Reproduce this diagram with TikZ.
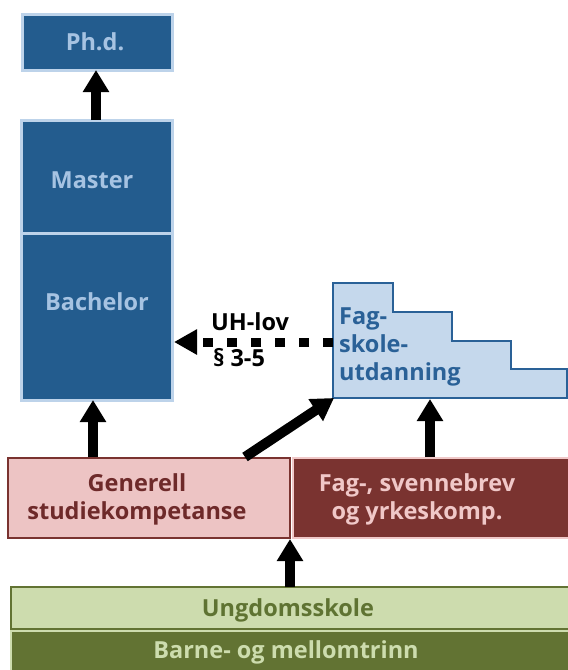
\documentclass[tikz,border=0pt]{standalone}
\usepackage{fontspec}
\setmainfont{Open Sans}
\usetikzlibrary{arrows.meta}
\definecolor{dblue}{HTML}{235C8E}
\definecolor{lblue}{HTML}{BDD3EA}
\definecolor{tblue}{HTML}{A6C3E2}
\definecolor{fsfill}{HTML}{C5D8EC}
\definecolor{fsline}{HTML}{2A6197}
\definecolor{pinkfill}{HTML}{EDC4C4}
\definecolor{dred}{HTML}{7A3330}
\definecolor{tred}{HTML}{6E2A2A}
\definecolor{lpink}{HTML}{F0C8C8}
\definecolor{lgreen}{HTML}{CDDCAE}
\definecolor{dgreen}{HTML}{627333}
\definecolor{tgreen}{HTML}{5F7332}
\tikzset{
  txt/.style={font=\fontsize{23.5}{28}\selectfont\bfseries, align=center, inner sep=0pt},
  bluebox/.style={fill=dblue, draw=lblue, line width=3pt},
  bigarrow/.style={line width=10pt, -{Triangle[length=22pt,width=25pt]}},
  dotarrow/.style={line width=9pt, dash pattern=on 10pt off 14pt, -{Triangle[length=23pt,width=24pt]}},
}
\begin{document}
\begin{tikzpicture}[x=1pt,y=-1pt]
\useasboundingbox (0,0) rectangle (568,670);
% bottom green
\draw[fill=dgreen, draw=lgreen, line width=2pt] (11,631) rectangle (575,680);
\draw[fill=lgreen, draw=dgreen, line width=2.5pt] (11,587) rectangle (575,629);
\node[txt, text=tgreen] (ung) at (288,610) {Ungdomsskole};
\node[txt, text=lgreen] (bar) at (286,652) {Barne- og mellomtrinn};
\coordinate (ungtop) at (290,587);
% red boxes
\draw[fill=pinkfill, draw=dred, line width=2.5pt] (8,458) rectangle (290,538);
\draw[fill=dred, draw=lpink, line width=2.5pt] (293,458) rectangle (575,538);
\node[txt, text=tred] (gen) at (137,499) {Generell\\studiekompetanse};
\node[txt, text=lpink] (fag) at (417,499) {Fag-, svennebrev\\og yrkeskomp.};
\coordinate (genjoin) at (290,539);
\coordinate (gentopL) at (93,457);
\coordinate (gentopD) at (245,457);
\coordinate (fagtop) at (430,457);
% blue boxes
\draw[bluebox] (22,14) rectangle (172,70);
\node[txt, text=tblue] (phd) at (95,42) {Ph.d.};
\draw[bluebox] (21,120) rectangle (172,400);
\draw[lblue, line width=3pt] (21,233) -- (172,233);
\node[txt, text=tblue] (master) at (92,180) {Master};
\node[txt, text=tblue] (bach) at (97,302) {Bachelor};
\coordinate (phdbot) at (96,70);
\coordinate (mastop) at (96,120);
\coordinate (bachbot) at (93,400);
\coordinate (bachright) at (174,342);
% fagskole stairs
\draw[fill=fsfill, draw=fsline, line width=2.5pt]
  (333,283) -- (393,283) -- (393,312) -- (452,312) -- (452,341) -- (511,341)
  -- (511,369) -- (567,369) -- (567,398) -- (333,398) -- cycle;
\node[txt, text=fsline, align=left, anchor=west] (fs) at (339,347) {Fag-\\skole-\\utdanning};
\coordinate (fsleft) at (333,342);
\coordinate (fscorner) at (334,398);
\coordinate (fsbot) at (430,399);
% labels
\node[txt] (uh) at (250,322) {UH-lov};
\node[txt] (par) at (239,358) {§ 3-5};
% arrows
\draw[bigarrow] (mastop) -- (phdbot);
\draw[bigarrow] (gentopL) -- (bachbot);
\draw[bigarrow] (gentopD) -- (fscorner);
\draw[bigarrow] (fagtop) -- (fsbot);
\draw[bigarrow] (ungtop) -- (genjoin);
\draw[dotarrow] (fsleft) -- (bachright);
\end{tikzpicture}
\end{document}
